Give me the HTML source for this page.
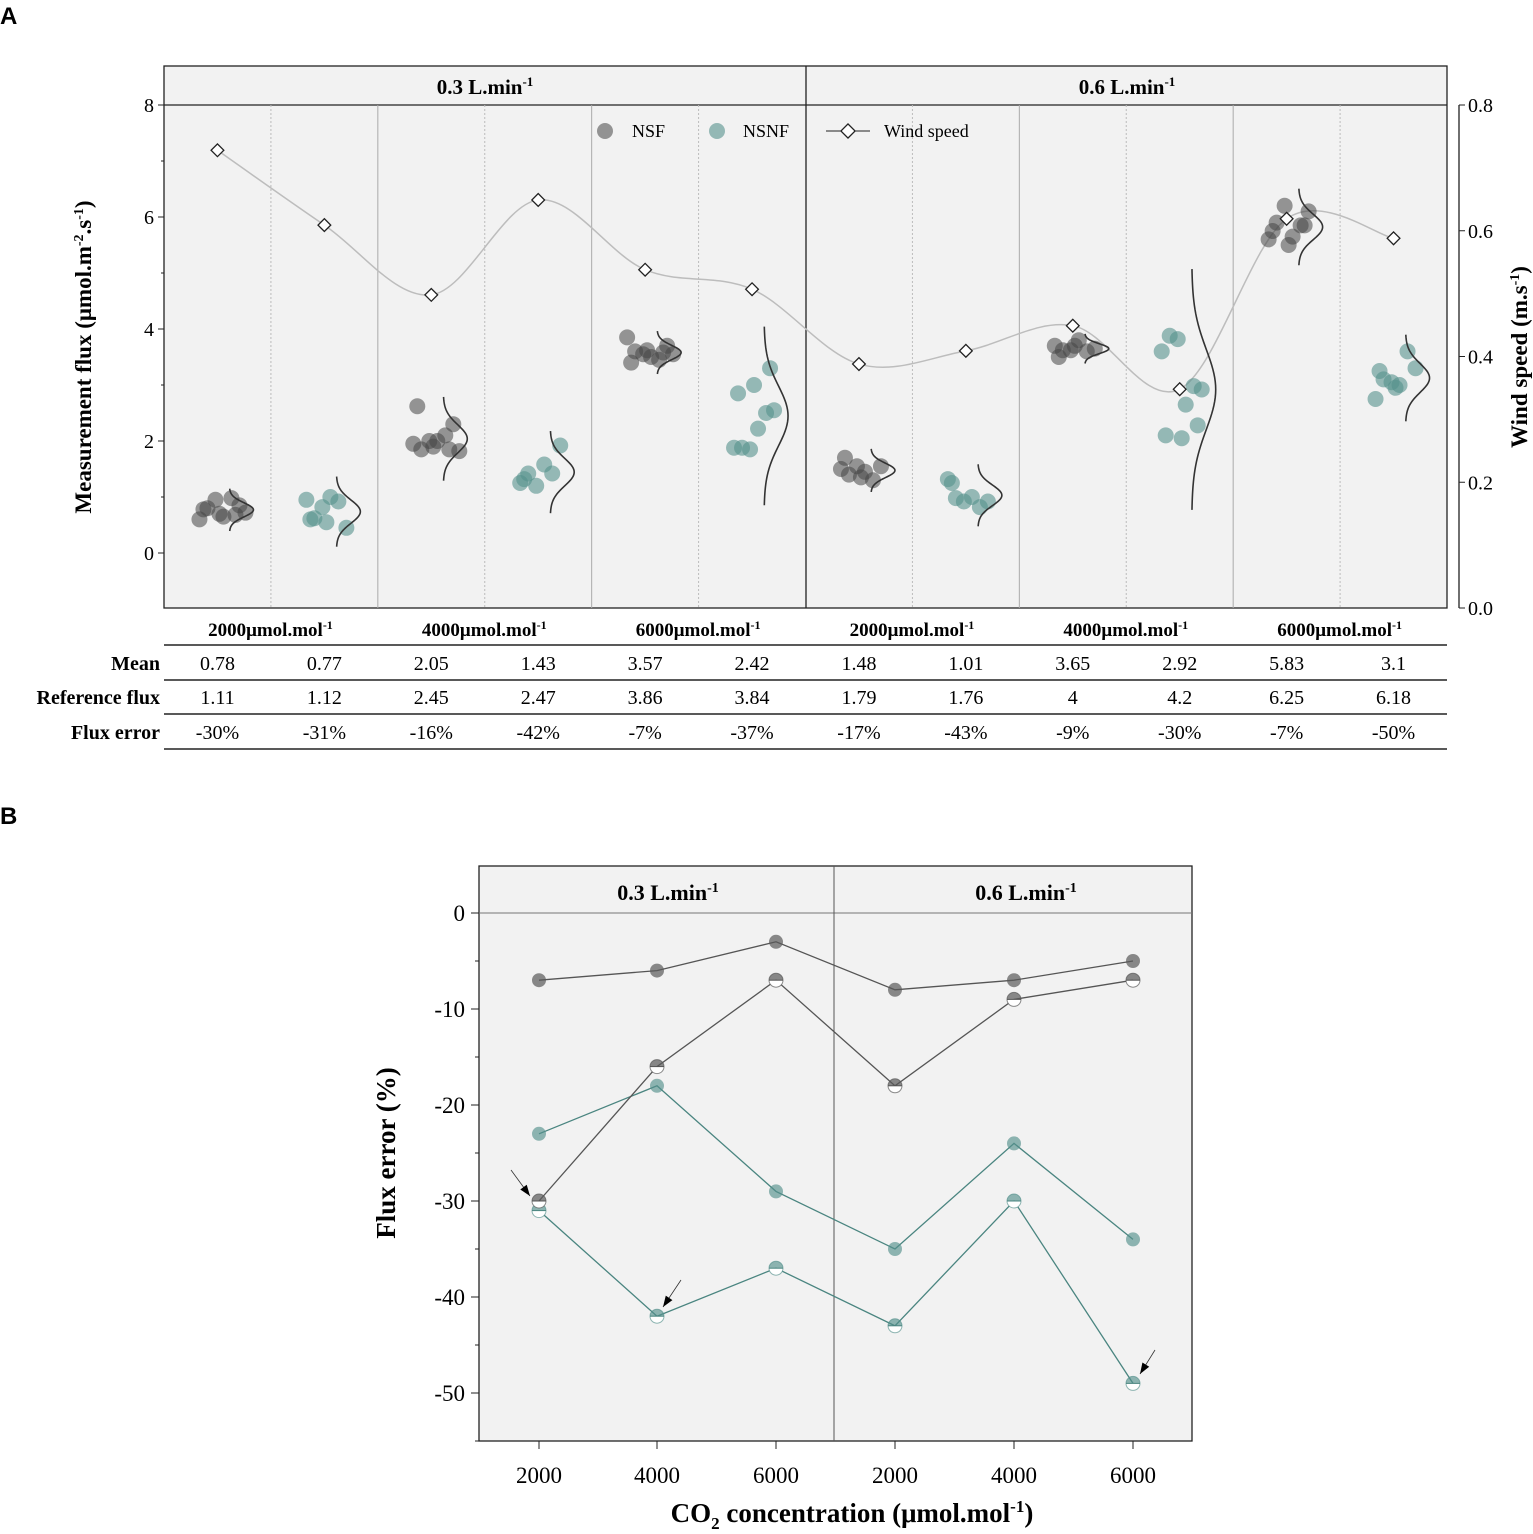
<!DOCTYPE html>
<html><head><meta charset="utf-8"><style>
body{margin:0;background:#fff;}
svg text{font-family:"Liberation Serif",serif;}
</style></head><body>
<svg id="c" width="1533" height="1529" viewBox="0 0 1533 1529" xmlns="http://www.w3.org/2000/svg"></svg>
<script>
const groups=["2000μmol.mol","4000μmol.mol","6000μmol.mol","2000μmol.mol","4000μmol.mol","6000μmol.mol"];
const windSpeed=[0.728,0.609,0.498,0.649,0.538,0.507,0.388,0.409,0.449,0.348,0.619,0.588];
const fluxPoints=[
[0.8,0.95,0.6,0.65,0.98,0.85,0.78,0.7,0.68,0.72],
[0.62,0.82,0.95,1.0,0.92,0.45,0.6,0.55],
[1.85,2.0,1.95,2.0,2.1,2.3,2.62,1.9,1.85,1.82],
[1.42,1.2,1.25,1.58,1.42,1.92,1.32],
[3.6,3.55,3.85,3.5,3.45,3.7,3.4,3.62,3.58,3.55],
[1.88,1.85,1.88,2.22,2.5,2.55,2.85,3.0,3.3],
[1.4,1.55,1.5,1.45,1.3,1.55,1.7,1.35],
[0.98,0.92,1.32,1.0,0.82,0.92,1.25],
[3.62,3.62,3.7,3.8,3.6,3.65,3.5,3.7],
[3.88,3.82,3.6,2.65,2.98,2.92,2.1,2.05,2.28],
[5.9,6.2,5.6,5.65,5.85,6.1,5.75,5.5,5.85],
[3.1,3.05,2.75,3.0,3.6,3.3,3.25,2.95]];
const meanRow=["0.78","0.77","2.05","1.43","3.57","2.42","1.48","1.01","3.65","2.92","5.83","3.1"];
const refRow=["1.11","1.12","2.45","2.47","3.86","3.84","1.79","1.76","4","4.2","6.25","6.18"];
const errRow=["-30%","-31%","-16%","-42%","-7%","-37%","-17%","-43%","-9%","-30%","-7%","-50%"];
const bCats=["2000","4000","6000","2000","4000","6000"];
const nsfCO2=[-7,-6,-3,-8,-7,-5];
const nsfRef=[-30,-16,-7,-18,-9,-7];
const nsnfCO2=[-23,-18,-29,-35,-24,-34];
const nsnfRef=[-31,-42,-37,-43,-30,-49];
const yTicksA=[0,2,4,6,8];
const yTicksR=[0,0.2,0.4,0.6,0.8];
const yTicksB=[0,-10,-20,-30,-40,-50];

const S=document.getElementById('c');const NS="http://www.w3.org/2000/svg";
function el(t,a,p){const e=document.createElementNS(NS,t);for(const k in a)e.setAttribute(k,a[k]);(p||S).appendChild(e);return e;}
function tx(x,y,s,a,name){const e=el('text',Object.assign({x:x,y:y},a));e.textContent=s;return e;}
const GR="rgba(70,70,70,0.55)",TL="rgba(85,145,140,0.6)";
// ---- Panel A
tx(0,24,"A",{style:"font-family:'Liberation Sans',sans-serif","font-weight":"bold","font-size":24},"panel-a-label");
const L=164,R=1447,T=105,B=608;
const ya=v=>553-v*56, yr=v=>608-v/0.8*503, xa=i=>L+(i+0.5)*(R-L)/12;
let r=el('rect',{x:L,y:66,width:R-L,height:B-66,fill:"#f2f2f2",stroke:"#222","stroke-width":1.3});

el('line',{x1:L,y1:T,x2:R,y2:T,stroke:"#222","stroke-width":1.3});
el('line',{x1:806,y1:66,x2:806,y2:B,stroke:"#222","stroke-width":1.3});
for(let i=1;i<12;i++){if(i==6)continue;const x=L+i*(R-L)/12;el('line',{x1:x,y1:T,x2:x,y2:B,stroke:i%2?"#bbb":"#aaa","stroke-dasharray":i%2?"2,2":"","stroke-width":1});}
t=tx(485,94,"",{"font-size":21,"font-weight":"bold","text-anchor":"middle"},"header-0.3");t.innerHTML='0.3 L.min<tspan dy="-8" font-size="13">-1</tspan>';
t=tx(1127,94,"",{"font-size":21,"font-weight":"bold","text-anchor":"middle"},"header-0.6");t.innerHTML='0.6 L.min<tspan dy="-8" font-size="13">-1</tspan>';
yTicksA.forEach(v=>{el('line',{x1:L-6,y1:ya(v),x2:L,y2:ya(v),stroke:"#222"});tx(L-10,ya(v)+7,String(v),{"font-size":20,"text-anchor":"end"},"y-tick-label");});
[1,3,5,7].forEach(v=>el('line',{x1:L-3,y1:ya(v),x2:L,y2:ya(v),stroke:"#222"}));
el('line',{x1:1459,y1:T,x2:1459,y2:B,stroke:"#222","stroke-width":1.3});
yTicksR.forEach(v=>{el('line',{x1:1459,y1:yr(v),x2:1465,y2:yr(v),stroke:"#222"});tx(1468,yr(v)+7,v.toFixed(1),{"font-size":20},"y2-tick-label");});
var t=tx(0,0,"",{"font-size":23,"font-weight":"bold",transform:"translate(91,357) rotate(-90)","text-anchor":"middle"},"y-axis-title");
t.innerHTML='Measurement flux (μmol.m<tspan dy="-8" font-size="14">-2</tspan><tspan dy="8">.s</tspan><tspan dy="-8" font-size="14">-1</tspan><tspan dy="8">)</tspan>';
t=tx(0,0,"",{"font-size":23,"font-weight":"bold",transform:"translate(1527,357) rotate(-90)","text-anchor":"middle"},"y2-axis-title");
t.innerHTML='Wind speed (m.s<tspan dy="-8" font-size="14">-1</tspan><tspan dy="8">)</tspan>';
const wp=windSpeed.map((v,i)=>[xa(i),yr(v)]);
let d="M"+wp[0];for(let i=0;i<wp.length-1;i++){const p0=wp[i-1]||wp[i],p1=wp[i],p2=wp[i+1],p3=wp[i+2]||p2;
d+=` C${p1[0]+(p2[0]-p0[0])/6},${p1[1]+(p2[1]-p0[1])/6} ${p2[0]-(p3[0]-p1[0])/6},${p2[1]-(p3[1]-p1[1])/6} ${p2[0]},${p2[1]}`;}
const wl=el('path',{d:d,fill:"none",stroke:"#bdbdbd","stroke-width":1.5});

const offs=[-14,-6,-22,2,10,18,-18,-2,14,24,-10,6];
fluxPoints.forEach((vals,g)=>{const cx=xa(g)+4,col=g%2?TL:GR;
vals.forEach((v,k)=>{const c=el('circle',{cx:cx+offs[k%offs.length],cy:ya(v),r:8,fill:col});
});
const m=vals.reduce((a,b)=>a+b)/vals.length;let sd=Math.sqrt(vals.reduce((a,b)=>a+(b-m)**2,0)/(vals.length-1));
let pd="";for(let s=-3;s<=3.001;s+=0.1){const px=cx+8+24*Math.exp(-s*s/2),py=ya(m+s*sd);pd+=(pd?"L":"M")+px+","+py;}
const dp=el('path',{d:pd,fill:"none",stroke:"#333","stroke-width":1.6});
});
wp.forEach(p=>{const m=el('rect',{x:-4.5,y:-4.5,width:9,height:9,fill:"#fff",stroke:"#222","stroke-width":1.3,transform:`translate(${p[0]},${p[1]}) rotate(45)`});
});
el('circle',{cx:605,cy:131,r:8,fill:GR});tx(632,137,"NSF",{"font-size":18},"legend-nsf");
el('circle',{cx:717,cy:131,r:8,fill:TL});tx(743,137,"NSNF",{"font-size":18},"legend-nsnf");
el('line',{x1:826,y1:131,x2:870,y2:131,stroke:"#222"});
el('rect',{x:-5,y:-5,width:10,height:10,fill:"#fff",stroke:"#222","stroke-width":1.3,transform:"translate(848,131) rotate(45)"});
tx(884,137,"Wind speed",{"font-size":18},"legend-wind");
for(let j=0;j<6;j++){t=tx(xa(2*j)+53,636,"",{"font-size":19,"font-weight":"bold","text-anchor":"middle"},"column-header");
t.innerHTML=groups[j]+'<tspan dy="-7" font-size="12">-1</tspan>';}
[645,680,714,749].forEach(y=>el('line',{x1:L,y1:y,x2:R,y2:y,stroke:"#222","stroke-width":1.5}));
[["Mean",meanRow,670],["Reference flux",refRow,704],["Flux error",errRow,739]].forEach(([lab,row,y])=>{
tx(160,y,lab,{"font-size":20,"font-weight":"bold","text-anchor":"end"},"row-label");
row.forEach((s,i)=>tx(xa(i),y,s,{"font-size":20,"text-anchor":"middle"},"table-value"));});
// ---- Panel B
tx(0,824,"B",{style:"font-family:'Liberation Sans',sans-serif","font-weight":"bold","font-size":24},"panel-b-label");
const bL=479,bR=1192,bT=866,bB=1441;
const yb=v=>913-v*9.6, xb=i=>[539,657,776,895,1014,1133][i];
r=el('rect',{x:bL,y:bT,width:bR-bL,height:bB-bT,fill:"#f2f2f2",stroke:"#222","stroke-width":1.3});

el('line',{x1:bL,y1:913,x2:bR,y2:913,stroke:"#777","stroke-width":1});
el('line',{x1:834,y1:bT,x2:834,y2:bB,stroke:"#555","stroke-width":1});
t=tx(668,900,"",{"font-size":22,"font-weight":"bold","text-anchor":"middle"},"header-b-0.3");t.innerHTML='0.3 L.min<tspan dy="-8" font-size="14">-1</tspan>';
t=tx(1026,900,"",{"font-size":22,"font-weight":"bold","text-anchor":"middle"},"header-b-0.6");t.innerHTML='0.6 L.min<tspan dy="-8" font-size="14">-1</tspan>';
yTicksB.forEach(v=>{el('line',{x1:bL-8,y1:yb(v),x2:bL,y2:yb(v),stroke:"#222"});tx(bL-14,yb(v)+8,String(v),{"font-size":23,"text-anchor":"end"},"y-tick-label-b");});
[-5,-15,-25,-35,-45,-55].forEach(v=>el('line',{x1:bL-4,y1:yb(v),x2:bL,y2:yb(v),stroke:"#222"}));
bCats.forEach((c,i)=>{el('line',{x1:xb(i),y1:bB,x2:xb(i),y2:bB+8,stroke:"#222"});tx(xb(i),1483,c,{"font-size":23,"text-anchor":"middle"},"x-tick-label-b");});
t=tx(852,1522,"",{"font-size":27,"font-weight":"bold","text-anchor":"middle"},"x-axis-title-b");
t.innerHTML='CO<tspan dy="7" font-size="17">2</tspan><tspan dy="-7"> concentration (μmol.mol</tspan><tspan dy="-10" font-size="17">-1</tspan><tspan dy="10">)</tspan>';
tx(0,0,"Flux error (%)",{"font-size":27,"font-weight":"bold",transform:"translate(395,1153) rotate(-90)","text-anchor":"middle"},"y-axis-title-b");
function series(vals,col,line,half,name){
el('polyline',{points:vals.map((v,i)=>xb(i)+","+yb(v)).join(" "),fill:"none",stroke:line,"stroke-width":1.3});
vals.forEach((v,i)=>{const x=xb(i),y=yb(v);
if(half){el('path',{d:`M${x-7},${y} A7,7 0 0 1 ${x+7},${y} Z`,fill:col});el('path',{d:`M${x-7},${y} A7,7 0 0 0 ${x+7},${y} Z`,fill:"#fff"});
const c=el('circle',{cx:x,cy:y,r:7,fill:"none",stroke:col,"stroke-width":1});el('line',{x1:x-7,y1:y,x2:x+7,y2:y,stroke:line});
}
else{const c=el('circle',{cx:x,cy:y,r:7,fill:col});}});}
series(nsnfRef,"rgba(85,145,140,0.65)","#4a8580",true,"nsnf-ref");
series(nsnfCO2,"rgba(85,145,140,0.65)","#4a8580",false,"nsnf-co2");
series(nsfRef,"rgba(90,90,90,0.7)","#555",true,"nsf-ref");
series(nsfCO2,"rgba(90,90,90,0.7)","#555",false,"nsf-co2");
[[511,1170,530,1196],[681,1280,663,1307],[1155,1350,1140,1374]].forEach(a=>{
el('line',{x1:a[0],y1:a[1],x2:a[2],y2:a[3],stroke:"#333","stroke-width":0.8});
const ang=Math.atan2(a[3]-a[1],a[2]-a[0]),x=a[2],y=a[3];
const p=[[x,y],[x-11*Math.cos(ang)+4*Math.sin(ang),y-11*Math.sin(ang)-4*Math.cos(ang)],[x-11*Math.cos(ang)-4*Math.sin(ang),y-11*Math.sin(ang)+4*Math.cos(ang)]];
const ar=el('polygon',{points:p.map(q=>q.join(",")).join(" "),fill:"#000"});});
</script>
</body></html>
